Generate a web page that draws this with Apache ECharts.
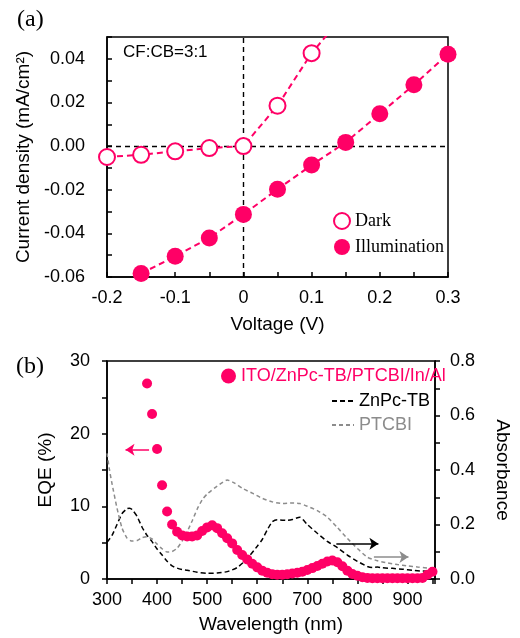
<!DOCTYPE html>
<html>
<head>
<meta charset="utf-8">
<script src="https://cdn.jsdelivr.net/npm/echarts@6/dist/echarts.min.js"></script>
<style>
  html, body { margin: 0; padding: 0; background: #fff; }
  #chart { width: 520px; height: 638px; }
</style>
</head>
<body>
<div id="chart"></div>
<script>
// (a) J-V curves
const voltDark = [-0.2, -0.15, -0.1, -0.05, 0, 0.05, 0.1, 0.15];
const jDark = [-0.005, -0.004, -0.0024, -0.0009, 0, 0.0185, 0.0426, 0.061];
const voltIllum = [-0.15, -0.1, -0.05, 0, 0.05, 0.1, 0.15, 0.2, 0.25, 0.3];
const jIllum = [-0.0584, -0.0505, -0.0421, -0.0313, -0.0198, -0.0087, 0.0017, 0.0148, 0.0281, 0.0421];

// (b) EQE (%) vs wavelength
const eqeNm = [380, 390, 400, 410, 420, 430, 440, 450, 460, 470, 480, 490, 500, 510, 520, 530, 540, 550, 560, 570,
  580, 590, 600, 610, 620, 630, 640, 650, 660, 670, 680, 690, 700, 710, 720, 730, 740, 750, 760, 770,
  780, 790, 800, 810, 820, 830, 840, 850, 860, 870, 880, 890, 900, 910, 920, 930, 940, 950];
const eqeVal = [26.9, 22.7, 17.9, 12.9, 9.3, 7.5, 6.5, 6.0, 5.85, 5.85, 6.0, 6.6, 7.1, 7.4, 7.0, 6.3, 5.6, 4.9, 4.0, 3.3,
  2.7, 2.1, 1.6, 1.15, 0.85, 0.65, 0.6, 0.6, 0.65, 0.75, 0.85, 1.0, 1.25, 1.5, 1.8, 2.1, 2.4, 2.55, 2.3, 1.75,
  1.15, 0.7, 0.45, 0.25, 0.15, 0.1, 0.1, 0.1, 0.1, 0.1, 0.1, 0.1, 0.1, 0.1, 0.1, 0.15, 0.6, 1.0];

// (b) absorbance
const znNm = [300, 310, 320, 330, 340, 345, 350, 360, 370, 380, 390, 400, 410, 420, 430, 440, 450, 460, 480, 500,
  520, 540, 560, 580, 600, 610, 620, 630, 640, 660, 670, 685, 700, 720, 740, 760, 780, 800, 820, 830,
  840, 850, 870, 890, 910, 930, 950];
const znAbs = [0.135, 0.16, 0.2, 0.24, 0.258, 0.26, 0.255, 0.23, 0.19, 0.16, 0.137, 0.11, 0.088, 0.065, 0.048, 0.04, 0.035, 0.032, 0.025, 0.021,
  0.022, 0.027, 0.042, 0.075, 0.12, 0.145, 0.18, 0.21, 0.217, 0.215, 0.218, 0.227, 0.2, 0.168, 0.138, 0.115, 0.088, 0.065, 0.046, 0.042,
  0.044, 0.041, 0.039, 0.036, 0.032, 0.029, 0.027];
const ptNm = [300, 305, 310, 320, 330, 340, 350, 360, 370, 380, 390, 400, 410, 420, 430, 440, 450, 460, 470, 480,
  490, 500, 520, 540, 555, 570, 590, 610, 630, 650, 670, 685, 700, 720, 740, 760, 780, 800, 820, 840,
  860, 880, 900, 920, 950];
const ptAbs = [0.461, 0.4, 0.35, 0.26, 0.187, 0.15, 0.139, 0.141, 0.152, 0.155, 0.147, 0.128, 0.111, 0.099, 0.101, 0.113, 0.139, 0.173, 0.213, 0.256,
  0.29, 0.312, 0.341, 0.363, 0.352, 0.333, 0.315, 0.296, 0.283, 0.277, 0.279, 0.277, 0.267, 0.251, 0.227, 0.189, 0.149, 0.112, 0.08, 0.067,
  0.059, 0.053, 0.048, 0.044, 0.039];

const PINK = '#ff0066';
const GRAY = '#8c8c8c';
const sans = 'Liberation Sans';
const serif = 'Liberation Serif';

const zip = (xs, ys) => xs.map((x, i) => [x, ys[i]]);

const axisLine = { show: true, onZero: false, lineStyle: { color: '#000', width: 1.5 } };
const tickIn = { show: true, inside: true, length: 5, lineStyle: { color: '#000', width: 1.5 } };
const tickOut = { show: true, inside: false, length: 5, lineStyle: { color: '#000', width: 1.5 } };
const labelStyle = { color: '#000', fontFamily: sans, fontSize: 18 };
const nameStyle = { color: '#000', fontFamily: sans, fontSize: 19 };

const chart = echarts.init(document.getElementById('chart'));

chart.setOption({
  animation: false,
  backgroundColor: '#fff',
  grid: [
    { left: 107, top: 37, width: 341, height: 240, show: true, borderColor: '#000', borderWidth: 1.5 },
    { left: 107, top: 361, width: 340, height: 218, show: true, borderColor: '#000', borderWidth: 1.5 }
  ],
  xAxis: [
    {
      gridIndex: 0, type: 'value', min: -0.2, max: 0.3, interval: 0.05,
      name: 'Voltage (V)', nameLocation: 'middle', nameGap: 38, nameTextStyle: nameStyle,
      axisLine: axisLine, axisTick: tickIn, splitLine: { show: false },
      axisLabel: {
        ...labelStyle, margin: 12,
        formatter: v => (Math.round(v * 100) % 10 === 0 ? String(+v.toFixed(1)) : '')
      }
    },
    {
      gridIndex: 1, type: 'value', min: 300, max: 955, interval: 50,
      name: 'Wavelength (nm)', nameLocation: 'middle', nameGap: 36, nameTextStyle: nameStyle,
      axisLine: axisLine, axisTick: tickOut, splitLine: { show: false },
      axisLabel: { ...labelStyle, margin: 12, formatter: v => (v % 100 === 0 ? String(v) : '') }
    }
  ],
  yAxis: [
    {
      gridIndex: 0, type: 'value', min: -0.06, max: 0.05, interval: 0.01,
      name: 'Current density (mA/cm²)', nameLocation: 'middle', nameGap: 62, nameTextStyle: nameStyle,
      axisLine: axisLine, axisTick: tickIn, splitLine: { show: false },
      axisLabel: {
        ...labelStyle, margin: 22,
        formatter: v => (Math.abs(Math.round(v * 100)) % 2 === 0 ? v.toFixed(2) : '')
      }
    },
    {
      gridIndex: 1, type: 'value', min: 0, max: 30, interval: 10,
      name: 'EQE (%)', nameLocation: 'middle', nameGap: 52, nameTextStyle: nameStyle,
      axisLine: axisLine, axisTick: tickOut, splitLine: { show: false },
      minorTick: { show: true, splitNumber: 2, length: 5, lineStyle: { color: '#000', width: 1.5 } },
      axisLabel: { ...labelStyle, margin: 17 }
    },
    {
      gridIndex: 1, type: 'value', position: 'right', min: 0, max: 0.8, interval: 0.2,
      name: 'Absorbance', nameLocation: 'middle', nameGap: 58, nameRotate: -90, nameTextStyle: nameStyle,
      axisLine: axisLine, axisTick: tickOut, splitLine: { show: false },
      minorTick: { show: true, splitNumber: 2, length: 5, lineStyle: { color: '#000', width: 1.5 } },
      axisLabel: { ...labelStyle, margin: 15, formatter: v => v.toFixed(1) }
    }
  ],
  legend: [
    {
      orient: 'vertical', left: 328, top: 207, itemWidth: 16, itemHeight: 16, itemGap: 8,
      icon: 'circle',
      textStyle: { color: '#000', fontFamily: serif, fontSize: 18 },
      data: ['Dark', 'Illumination']
    },
    {
      left: 216, top: 362, itemWidth: 15, itemHeight: 15, icon: 'circle',
      textStyle: { color: PINK, fontFamily: sans, fontSize: 18 },
      data: ['ITO/ZnPc-TB/PTCBI/In/Al']
    },
    {
      orient: 'vertical', left: 326, top: 387, itemWidth: 22, itemHeight: 10, itemGap: 6,
      itemStyle: { opacity: 0 },
      textStyle: { fontFamily: sans, fontSize: 18 },
      data: [
        { name: 'ZnPc-TB', textStyle: { color: '#000' } },
        { name: 'PTCBI', textStyle: { color: GRAY } }
      ]
    }
  ],
  graphic: [
    { type: 'text', left: 17, top: 8, style: { text: '(a)', font: '24px ' + serif, fill: '#000' } },
    { type: 'text', left: 16, top: 355, style: { text: '(b)', font: '24px ' + serif, fill: '#000' } },
    { type: 'text', left: 123, top: 44, style: { text: 'CF:CB=3:1', font: '17px ' + sans, fill: '#000' } }
  ],
  series: [
    {
      name: 'Dark', type: 'line', xAxisIndex: 0, yAxisIndex: 0, z: 3,
      data: zip(voltDark, jDark),
      symbol: 'circle', symbolSize: 16,
      itemStyle: { color: '#fff', borderColor: PINK, borderWidth: 2 },
      lineStyle: { color: PINK, width: 2, type: [6, 4] },
      markLine: {
        silent: true, symbol: 'none', z: 1, animation: false,
        label: { show: false },
        lineStyle: { color: '#000', width: 1.4, type: [5, 4] },
        data: [{ yAxis: 0 }, { xAxis: 0 }]
      }
    },
    {
      name: 'Illumination', type: 'line', xAxisIndex: 0, yAxisIndex: 0, z: 4,
      data: zip(voltIllum, jIllum),
      symbol: 'circle', symbolSize: 17,
      itemStyle: { color: PINK },
      lineStyle: { color: PINK, width: 2, type: [6, 4] }
    },
    {
      name: 'ITO/ZnPc-TB/PTCBI/In/Al', type: 'scatter', xAxisIndex: 1, yAxisIndex: 1, z: 4,
      data: zip(eqeNm, eqeVal),
      symbolSize: 10,
      itemStyle: { color: PINK, opacity: 1 },
      markLine: {
        silent: true, symbol: ['none', 'arrow'], symbolSize: 9, animation: false,
        label: { show: false },
        lineStyle: { color: PINK, width: 1.5, type: 'solid' },
        data: [[{ coord: [384, 17.8] }, { coord: [337, 17.8] }]]
      }
    },
    {
      name: 'ZnPc-TB', type: 'line', xAxisIndex: 1, yAxisIndex: 2, z: 3,
      data: zip(znNm, znAbs), smooth: 0.2,
      symbol: 'none',
      itemStyle: { color: '#000' },
      lineStyle: { color: '#000', width: 1.5, type: [5, 3] },
      markLine: {
        silent: true, symbol: ['none', 'arrow'], symbolSize: 9, animation: false,
        label: { show: false },
        lineStyle: { color: '#000', width: 1.5, type: 'solid' },
        data: [[{ coord: [758, 0.129] }, { coord: [842, 0.129] }]]
      }
    },
    {
      name: 'PTCBI', type: 'line', xAxisIndex: 1, yAxisIndex: 2, z: 3,
      data: zip(ptNm, ptAbs), smooth: 0.2,
      symbol: 'none',
      itemStyle: { color: GRAY },
      lineStyle: { color: GRAY, width: 1.5, type: [4, 3] },
      markLine: {
        silent: true, symbol: ['none', 'arrow'], symbolSize: 9, animation: false,
        label: { show: false },
        lineStyle: { color: GRAY, width: 1.5, type: 'solid' },
        data: [[{ coord: [833, 0.0805] }, { coord: [902, 0.0805] }]]
      }
    }
  ]
});
</script>
</body>
</html>
